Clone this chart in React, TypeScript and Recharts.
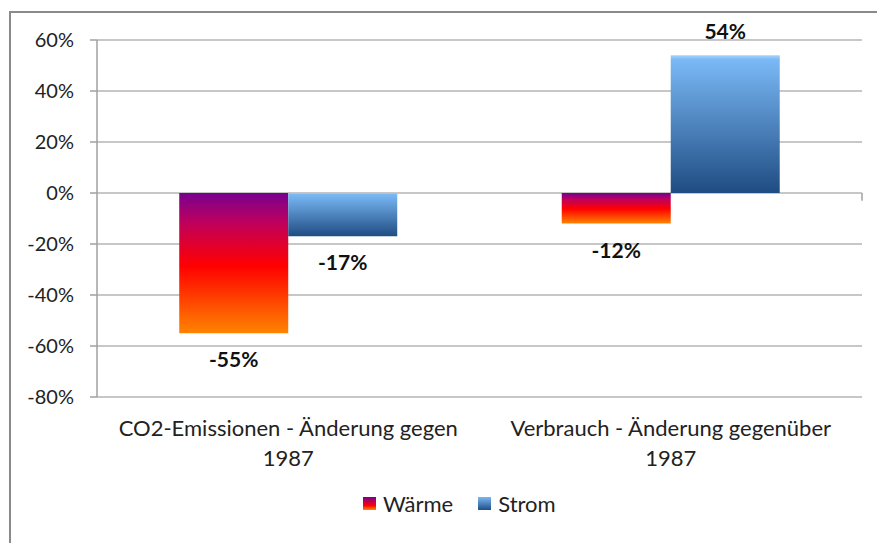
import { BarChart, Bar, XAxis, YAxis, CartesianGrid, Legend, LabelList, ReferenceLine } from "recharts";

const categories = ["CO2-Emissionen - Änderung gegen|1987", "Verbrauch - Änderung gegenüber|1987"];
const waerme = [-55, -12];
const strom = [-17, 54];
const yTicks = [-80, -60, -40, -20, 0, 20, 40, 60];

const FONT = "Lato, 'Open Sans', sans-serif";

const chartData = categories.map((name, i) => ({
  name,
  waerme: waerme[i],
  strom: strom[i],
}));

// category label split over two lines
function CategoryTick(props: any) {
  const { x, y, payload } = props;
  const lines = String(payload.value).split("|");
  return (
    <text x={x} y={y} textAnchor="middle" fill="#222" fontSize={22} fontFamily={FONT}>
      {lines.map((l, i) => (
        <tspan key={i} x={x} dy={i === 0 ? 39 : 30}>
          {l}
        </tspan>
      ))}
    </text>
  );
}

function ValueLabel(props: any) {
  const { x, y, width, height, value } = props;
  const top = Math.min(y, y + height);
  const bottom = Math.max(y, y + height);
  const ty = value < 0 ? bottom + 34 : top - 16;
  return (
    <text x={x + width / 2} y={ty} textAnchor="middle" fill="#111" fontSize={21} fontWeight="bold" fontFamily={FONT}>
      {value}%
    </text>
  );
}

function LegendContent() {
  const items = [
    { label: "Wärme", bg: "linear-gradient(#7a0090, #e0002a 50%, #ff0000 65%, #ff8a00)" },
    { label: "Strom", bg: "linear-gradient(#7ab8f5, #1f4e85)" },
  ];
  return (
    <div style={{ display: "flex", alignItems: "center", height: 30, paddingLeft: 363, fontFamily: FONT, fontSize: 22, color: "#222" }}>
      {items.map((it) => (
        <div key={it.label} style={{ display: "flex", alignItems: "center", marginRight: 25 }}>
          <div style={{ width: 13, height: 13, background: it.bg, marginRight: 7 }} />
          <span>{it.label}</span>
        </div>
      ))}
    </div>
  );
}

export default function App() {
  return (
    <div style={{ position: "fixed", width: 877, height: 543, left: 0, top: 0, overflow: "hidden", background: "#fff" }}>
      <div style={{ position: "absolute", left: 9, top: 11, width: 1000, height: 1000, border: "2px solid #8a8a8a" }} />
      <div style={{ position: "absolute", left: 0, top: 0 }}>
        <BarChart
          width={877}
          height={543}
          data={chartData}
          margin={{ top: 40, right: 15, left: 0, bottom: 25 }}
          barCategoryGap="21.5%"
          barGap={0}
        >
          <defs>
            <linearGradient id="gWaerme" x1="0" y1="0" x2="0" y2="1">
              <stop offset="0%" stopColor="#780090" />
              <stop offset="22%" stopColor="#c2005a" />
              <stop offset="52%" stopColor="#ff0000" />
              <stop offset="100%" stopColor="#ff8400" />
            </linearGradient>
            <linearGradient id="gStrom" x1="0" y1="0" x2="0" y2="1">
              <stop offset="0%" stopColor="#a9d2fa" />
              <stop offset="3%" stopColor="#7ab9f6" />
              <stop offset="100%" stopColor="#1f4c82" />
            </linearGradient>
          </defs>
          <CartesianGrid vertical={false} stroke="#b4b4b4" strokeWidth={1.5} />
          <XAxis
            dataKey="name"
            axisLine={false}
            tickLine={false}
            tickSize={0}
            tickMargin={0}
            height={91}
            interval={0}
            tick={<CategoryTick />}
          />
          <XAxis xAxisId="b" type="number" domain={[0, 2]} hide />
          <YAxis
            width={97}
            domain={[-80, 60]}
            ticks={yTicks}
            interval={0}
            tickFormatter={(v) => `${v}%`}
            stroke="#a0a0a0"
            strokeWidth={1.5}
            tickSize={7}
            tickMargin={16}
            tick={{ fill: "#222", fontSize: 20, fontFamily: FONT }}
          />
          <ReferenceLine
            xAxisId="b"
            segment={[
              { x: 1, y: 0 },
              { x: 1, y: -3 },
            ]}
            stroke="#a0a0a0"
            strokeWidth={1.5}
          />
          <Legend verticalAlign="bottom" height={30} wrapperStyle={{ left: 0, width: 877, height: 30 }} content={<LegendContent />} />
          <Bar dataKey="waerme" name="Wärme" fill="url(#gWaerme)" isAnimationActive={false}>
            <LabelList dataKey="waerme" content={<ValueLabel />} />
          </Bar>
          <Bar dataKey="strom" name="Strom" fill="url(#gStrom)" isAnimationActive={false}>
            <LabelList dataKey="strom" content={<ValueLabel />} />
          </Bar>
        </BarChart>
      </div>
    </div>
  );
}
